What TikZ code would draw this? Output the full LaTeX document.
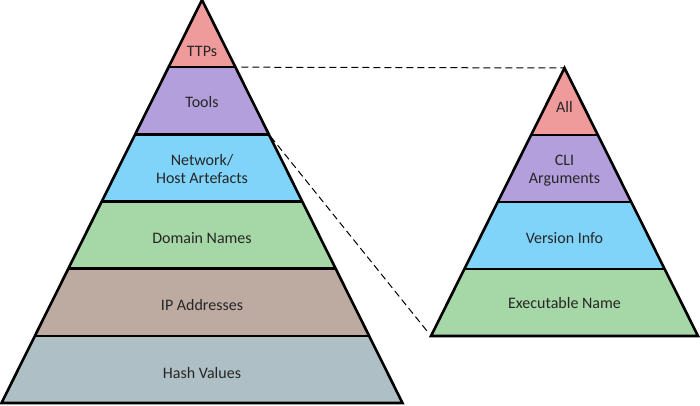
\documentclass[tikz,border=0pt]{standalone}
\usepackage{fontspec}
\setmainfont{Carlito}
\usetikzlibrary{calc}
\definecolor{ttpRed}{RGB}{240,155,155}
\definecolor{toolPurple}{RGB}{179,159,219}
\definecolor{hostBlue}{RGB}{128,212,250}
\definecolor{domainGreen}{RGB}{166,215,166}
\definecolor{ipBrown}{RGB}{189,171,162}
\definecolor{hashGrey}{RGB}{175,191,198}
\newcommand{\layerFont}[0]{\fontsize{16}{18}\selectfont}

\begin{document}
\begin{tikzpicture}[x=1pt, y=-1pt]
  \tikzset{outline/.style={line width=2.6pt, line join=miter},
           layer/.style={font=\layerFont, text=black!85, align=center, anchor=base},
           zoomline/.style={line width=1pt, dash pattern=on 7pt off 4pt}}
  \useasboundingbox (0,0) rectangle (700,406);
  % big pyramid
  \coordinate (bigTop) at (202,0);
  \coordinate (bigLeft) at (1.5,403);
  \coordinate (bigRight) at (402.5,403);
  \begin{scope}
    \clip (bigTop) -- (bigLeft) -- (bigRight) -- cycle;
    \fill[ttpRed]      (0,0)     rectangle (405,67.2);
    \fill[toolPurple]  (0,67.2)  rectangle (405,134.3);
    \fill[hostBlue]    (0,134.3) rectangle (405,201.5);
    \fill[domainGreen] (0,201.5) rectangle (405,268.7);
    \fill[ipBrown]     (0,268.7) rectangle (405,335.8);
    \fill[hashGrey]    (0,335.8) rectangle (405,405);
  \end{scope}
  \foreach \k in {1,...,5}
    \draw[outline] ($(bigTop)!\k/6!(bigLeft)$) -- ($(bigTop)!\k/6!(bigRight)$);
  \draw[outline] (bigTop) -- (bigLeft) -- (bigRight) -- cycle;
  \coordinate (ttpCorner) at ($(bigTop)!1/6!(bigRight)$);
  \coordinate (toolCorner) at ($(bigTop)!2/6!(bigRight)$);
  \node[layer] (ttps)    at (202,57)  {TTPs};
  \node[layer] (tools)   at (202,108) {Tools};
  \node[layer] (hosts)   at (202,183) {Network/\\Host Artefacts};
  \node[layer] (domains) at (202,243) {Domain Names};
  \node[layer] (ips)     at (202,310) {IP Addresses};
  \node[layer] (hashes)  at (202,378) {Hash Values};
  % small pyramid
  \coordinate (smallTop) at (564.5,68);
  \coordinate (smallLeft) at (431,336);
  \coordinate (smallRight) at (698,336);
  \begin{scope}
    \clip (smallTop) -- (smallLeft) -- (smallRight) -- cycle;
    \fill[ttpRed]      (425,60)  rectangle (700,135);
    \fill[toolPurple]  (425,135) rectangle (700,202);
    \fill[hostBlue]    (425,202) rectangle (700,269);
    \fill[domainGreen] (425,269) rectangle (700,340);
  \end{scope}
  \foreach \k in {1,...,3}
    \draw[outline] ($(smallTop)!\k/4!(smallLeft)$) -- ($(smallTop)!\k/4!(smallRight)$);
  \draw[outline] (smallTop) -- (smallLeft) -- (smallRight) -- cycle;
  \node[layer] (all)     at (564.5,113) {All};
  \node[layer] (cliArgs) at (564.5,183) {CLI\\Arguments};
  \node[layer] (version) at (564.5,243) {Version Info};
  \node[layer] (exeName) at (564.5,308) {Executable Name};
  % zoom lines
  \draw[zoomline, shorten <=6pt] (ttpCorner) -- (smallTop);
  \draw[zoomline, shorten <=3pt, shorten >=4pt] (toolCorner) -- (smallLeft);
\end{tikzpicture}
\end{document}
